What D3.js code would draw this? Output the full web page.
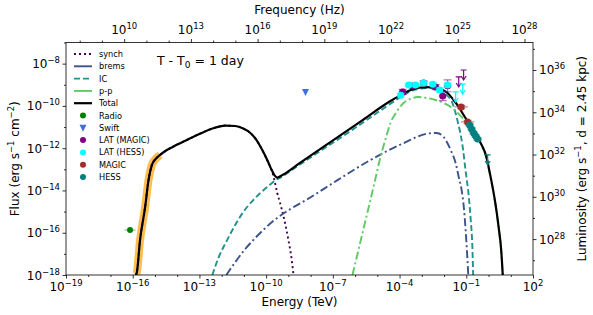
<!DOCTYPE html>
<html lang="en">
<head>
<meta charset="utf-8">
<title>SED, T - T0 = 1 day</title>
<script src="https://cdn.jsdelivr.net/npm/d3@7"></script>
<style>
  body { margin: 0; background: #fff; }
  svg { font-family: "DejaVu Sans", sans-serif; }
</style>
</head>
<body>
<svg id="chart" width="593" height="315"></svg>
<script>

// model curves: [log10 E (TeV), log10 flux (erg s-1 cm-2)]
var synchCurve = [[-15.87,-18],[-15.82,-17.91],[-15.67,-16.34],[-15.44,-14.77],[-15.29,-13.51],[-15.14,-12.80],
  [-14.95,-12.49],[-14.77,-12.32],[-14.50,-12.11],[-14.18,-11.93],[-13.56,-11.61],[-12.96,-11.31],[-12.42,-11.07],
  [-11.84,-10.93],[-11.39,-10.95],[-11.03,-11.07],[-10.71,-11.28],[-10.44,-11.61],[-10.26,-11.92],[-10.08,-12.28],
  [-9.90,-12.68],[-9.77,-12.99],[-9.63,-13.51],[-9.50,-14.12],[-9.36,-14.64],[-9.18,-15.40],[-9.00,-16.34],
  [-8.86,-17.20],[-8.77,-18]];

var bremsCurve = [[-11.79,-18],[-11.39,-17.39],[-10.94,-16.77],[-10.49,-16.25],[-9.99,-15.73],[-9.50,-15.30],
  [-8.91,-14.88],[-8.14,-14.41],[-6.79,-13.51],[-5.31,-12.56],[-3.82,-11.76],[-2.74,-11.31],[-2.33,-11.28],
  [-2.02,-11.47],[-1.70,-12.09],[-1.48,-12.70],[-1.34,-13.36],[-1.21,-13.98],[-1.12,-14.69],[-1.03,-15.87],
  [-0.96,-17.05],[-0.91,-18]];

var icCurve = [[-12.42,-18],[-12.15,-17.20],[-11.75,-16.34],[-11.39,-15.63],[-11.03,-15.02],[-10.62,-14.50],
  [-10.26,-14.12],[-9.90,-13.79],[-9.59,-13.53],[-9.27,-13.34],[-8.91,-13.08],[-7.56,-12.13],[-6.21,-11.19],
  [-4.86,-10.22],[-3.95,-9.58],[-3.50,-9.30],[-3.05,-9.18],[-2.60,-9.15],[-2.15,-9.25],[-1.88,-9.49],
  [-1.66,-9.77],[-1.39,-10.72],[-1.16,-11.95],[-1.03,-13.08],[-0.89,-14.26],[-0.80,-15.40],[-0.73,-16.58],
  [-0.69,-18]];

var ppCurve = [[-6.12,-18],[-5.85,-16.82],[-5.58,-15.63],[-5.31,-14.45],[-5.08,-13.41],[-4.86,-12.42],
  [-4.63,-11.57],[-4.41,-10.81],[-4.14,-10.29],[-3.82,-9.86],[-3.50,-9.67],[-3.19,-9.58],[-2.74,-9.63],
  [-2.38,-9.72],[-2.02,-9.86],[-1.70,-10.05],[-1.48,-10.24],[-1.25,-10.48],[-0.89,-10.86],[-0.62,-11.28],
  [-0.35,-11.80],[-0.08,-12.52],[0.05,-13.18],[0.19,-13.93],[0.32,-14.74],[0.46,-15.82],[0.57,-16.86],[0.64,-18]];

var totalCurve = [[-15.87,-18],[-15.82,-17.91],[-15.67,-16.34],[-15.44,-14.77],[-15.29,-13.51],[-15.14,-12.80],
  [-14.95,-12.49],[-14.77,-12.32],[-14.50,-12.11],[-14.18,-11.93],[-13.56,-11.61],[-12.96,-11.31],[-12.42,-11.07],
  [-11.84,-10.93],[-11.39,-10.95],[-11.03,-11.07],[-10.71,-11.28],[-10.44,-11.61],[-10.26,-11.92],[-10.08,-12.28],
  [-9.90,-12.68],[-9.77,-12.99],[-9.63,-13.27],[-9.50,-13.39],[-9.27,-13.27],[-8.46,-12.68],[-7.11,-11.71],
  [-5.76,-10.74],[-4.41,-9.77],[-3.95,-9.49],[-3.50,-9.25],[-3.05,-9.13],[-2.60,-9.11],[-2.15,-9.20],
  [-1.84,-9.39],[-1.57,-9.72],[-1.34,-10.05],[-1.12,-10.43],[-0.89,-10.81],[-0.62,-11.24],[-0.35,-11.76],
  [-0.08,-12.47],[0.05,-13.13],[0.19,-13.88],[0.32,-14.69],[0.46,-15.78],[0.57,-16.82],[0.64,-18]];

// synchrotron uncertainty band, covers the steep low energy rise
var bandCurve = synchCurve.slice(0, 8);

// measurements, log10 values
var radioE = [-16.12], radioF = [-15.87], radioXerr = [0.25];
var swiftE = [-8.23], swiftF = [-9.34];
var latMagicE = [-3.86, -3.41, -2.92, -2.38, -2.06, -1.84];
var latMagicF = [-9.34, -9.06, -8.92, -9.11, -9.53, -9.05];
var latMagicYerr = [0.12, 0.10, 0.10, 0.12, 0.22, 0.28];
var latMagicUL = [[-1.34, -8.63], [-1.12, -8.30]];
var latHessE = [-3.95, -3.59, -3.28, -2.92, -2.51, -2.20, -1.84];
var latHessF = [-9.49, -9.01, -9.01, -8.92, -8.97, -9.25, -9.01];
var latHessYerr = [0.08, 0.08, 0.08, 0.08, 0.08, 0.10, 0.10];
var latHessUL = [[-1.48, -9.34], [-1.16, -8.97]];
var magicE = [-1.23, -0.94], magicF = [-10.05, -10.76], magicXerr = [0.3, 0.3];
var hessE = [-0.85, -0.76, -0.67, -0.58, -0.49];
var hessF = [-10.90, -11.09, -11.28, -11.42, -11.57];
var hessXerr = [0.2, 0.2, 0.2, 0.2, 0.2];
var hessUL = [[-0.04, -12.32]];

// axis ticks (exponents)
var energyTicks = [-19, -16, -13, -10, -7, -4, -1, 2];
var freqTicks = [10, 13, 16, 19, 22, 25, 28];
var fluxTicks = [-18, -16, -14, -12, -10, -8];
var lumTicks = [28, 30, 32, 34, 36];

var tevToHz = 2.418e26;   // E = h nu
var lumPerFlux = 2.0e44;  // 4 pi d^2 as drawn on the right axis

var svg = d3.select("#chart");
var plotL = 66, plotR = 533, plotT = 42.5, plotB = 275;

var x = d3.scaleLog().domain([1e-19, 1e2]).range([plotL, plotR]);
var y = d3.scaleLog().domain([1e-18, 1e-7]).range([plotB, plotT]);
var xTop = d3.scaleLog().domain(x.domain().map(function(d){ return d * tevToHz; })).range(x.range());
var yRight = d3.scaleLog().domain(y.domain().map(function(d){ return d * lumPerFlux; })).range(y.range());

function p10(v) { return Math.pow(10, v); }
function px(v) { return x(p10(v)); }
function py(v) { return y(p10(v)); }

svg.append("clipPath").attr("id", "plotclip")
  .append("rect").attr("x", plotL).attr("y", plotT).attr("width", plotR - plotL).attr("height", plotB - plotT);

var plot = svg.append("g").attr("clip-path", "url(#plotclip)");

var line = d3.line()
  .x(function(d){ return px(d[0]); })
  .y(function(d){ return py(d[1]); })
  .curve(d3.curveMonotoneX);

// band first, then models
plot.append("path").datum(bandCurve).attr("d", line)
  .attr("fill", "none").attr("stroke", "#ffb030").attr("stroke-opacity", 0.85).attr("stroke-width", 8);

var models = [
  { data: synchCurve, color: "#440154", dash: "2,3", width: 1.9 },
  { data: bremsCurve, color: "#3b528b", dash: "8,3,2,3", width: 1.9 },
  { data: icCurve, color: "#21918c", dash: "6,3", width: 1.9 },
  { data: ppCurve, color: "#5ec962", dash: "8,3,2,3", width: 1.9 },
  { data: totalCurve, color: "#000", dash: null, width: 2.2 }
];

models.forEach(function(m) {
  plot.append("path").datum(m.data).attr("d", line)
    .attr("fill", "none")
    .attr("stroke", m.color)
    .attr("stroke-width", m.width)
    .attr("stroke-dasharray", m.dash);
});

// error bars + markers
function errbars(es, fs, xerr, yerr, color) {
  var g = plot.append("g").attr("stroke", color).attr("stroke-opacity", 0.55).attr("stroke-width", 1.2);
  es.forEach(function(e, i) {
    var cx = px(e), cy = py(fs[i]);
    if (xerr) {
      g.append("line").attr("x1", px(e - xerr[i])).attr("x2", px(e + xerr[i])).attr("y1", cy).attr("y2", cy);
    }
    if (yerr) {
      var y1 = py(fs[i] + yerr[i]), y2 = py(fs[i] - yerr[i]);
      g.append("line").attr("x1", cx).attr("x2", cx).attr("y1", y1).attr("y2", y2);
      g.append("line").attr("x1", cx - 4).attr("x2", cx + 4).attr("y1", y1).attr("y2", y1);
      g.append("line").attr("x1", cx - 4).attr("x2", cx + 4).attr("y1", y2).attr("y2", y2);
    }
  });
}

function dots(es, fs, color, r) {
  plot.append("g").selectAll("circle")
    .data(es)
    .enter()
    .append("circle")
    .attr("cx", function(d){ return px(d); })
    .attr("cy", function(d, i){ return py(fs[i]); })
    .attr("r", r)
    .attr("fill", color);
}

function upperLimits(list, color) {
  var g = plot.append("g");
  list.forEach(function(u) {
    var cx = px(u[0]), cy = py(u[1]);
    g.append("line").attr("x1", cx - 3).attr("x2", cx + 3).attr("y1", cy).attr("y2", cy)
      .attr("stroke", color).attr("stroke-width", 1.2);
    g.append("line").attr("x1", cx).attr("x2", cx).attr("y1", cy).attr("y2", cy + 9)
      .attr("stroke", color).attr("stroke-width", 1.2);
    g.append("path").attr("d", "M" + (cx - 2.5) + "," + (cy + 6) + "L" + cx + "," + (cy + 10) + "L" + (cx + 2.5) + "," + (cy + 6))
      .attr("fill", "none").attr("stroke", color).attr("stroke-width", 1.2);
  });
}

var cRadio = "#008000", cSwift = "#3f6fe0", cLatMagic = "#800080", cLatHess = "#00ffff",
    cMagic = "#a52a2a", cHess = "#008080";

errbars(radioE, radioF, radioXerr, null, cRadio);
dots(radioE, radioF, cRadio, 3);

plot.append("path")
  .attr("d", "M" + (px(swiftE[0]) - 3.5) + "," + (py(swiftF[0]) - 3) + "L" + (px(swiftE[0]) + 3.5) + "," + (py(swiftF[0]) - 3) +
    "L" + px(swiftE[0]) + "," + (py(swiftF[0]) + 4) + "Z")
  .attr("fill", cSwift);

errbars(latMagicE, latMagicF, latMagicE.map(function(){ return 0.17; }), latMagicYerr, cLatMagic);
dots(latMagicE, latMagicF, cLatMagic, 3.5);
upperLimits(latMagicUL, cLatMagic);

errbars(latHessE, latHessF, latHessE.map(function(){ return 0.17; }), latHessYerr, cLatHess);
dots(latHessE, latHessF, cLatHess, 3.5);
upperLimits(latHessUL, cLatHess);

errbars(magicE, magicF, magicXerr, [0.08, 0.08], cMagic);
dots(magicE, magicF, cMagic, 3.5);

errbars(hessE, hessF, hessXerr, [0.06, 0.06, 0.06, 0.06, 0.06], cHess);
dots(hessE, hessF, cHess, 3.5);
upperLimits(hessUL, cHess);

// frame
svg.append("rect").attr("x", plotL).attr("y", plotT).attr("width", plotR - plotL).attr("height", plotB - plotT)
  .attr("fill", "none").attr("stroke", "#000").attr("stroke-width", 0.8);

// ticks
function allDecades(a, b) { return d3.range(a, b + 1); }

function addTicks(scale, majors, lo, hi, orient, pos) {
  var minors = allDecades(lo, hi).filter(function(d){ return majors.indexOf(d) < 0; });
  var mk = { bottom: d3.axisBottom, top: d3.axisTop, left: d3.axisLeft, right: d3.axisRight }[orient];
  var tr = (orient === "bottom" || orient === "top") ? "translate(0," + pos + ")" : "translate(" + pos + ",0)";
  var gMaj = svg.append("g").attr("transform", tr)
    .call(mk(scale).tickValues(majors.map(p10)).tickSize(3.5).tickFormat(""));
  var gMin = svg.append("g").attr("transform", tr)
    .call(mk(scale).tickValues(minors.map(p10)).tickSize(2).tickFormat(""));
  [gMaj, gMin].forEach(function(g) {
    g.select(".domain").remove();
    g.selectAll("line").attr("stroke-width", 0.8);
  });

  majors.forEach(function(e) {
    var t = svg.append("text").attr("font-size", 12).attr("fill", "#000");
    var v = scale(p10(e));
    if (orient === "bottom") t.attr("x", v).attr("y", pos + 16).attr("text-anchor", "middle");
    if (orient === "top") t.attr("x", v).attr("y", pos - 9).attr("text-anchor", "middle");
    if (orient === "left") t.attr("x", pos - 6).attr("y", v + 4.5).attr("text-anchor", "end");
    if (orient === "right") t.attr("x", pos + 6).attr("y", v + 4.5).attr("text-anchor", "start");
    t.append("tspan").text("10");
    t.append("tspan").attr("dy", -5).attr("font-size", 8.5).text(e < 0 ? "\u2212" + (-e) : e);
  });
}

addTicks(x, energyTicks, -19, 2, "bottom", plotB);
addTicks(xTop, freqTicks, 8, 28, "top", plotT);
addTicks(y, fluxTicks, -18, -7, "left", plotL);
addTicks(yRight, lumTicks, 27, 37, "right", plotR);

// axis titles
svg.append("text").attr("x", (plotL + plotR) / 2).attr("y", 306).attr("text-anchor", "middle")
  .attr("font-size", 12).text("Energy (TeV)");
svg.append("text").attr("x", (plotL + plotR) / 2).attr("y", 14).attr("text-anchor", "middle")
  .attr("font-size", 12).text("Frequency (Hz)");

var yl = svg.append("text").attr("transform", "translate(19," + ((plotT + plotB) / 2) + ") rotate(-90)")
  .attr("text-anchor", "middle").attr("font-size", 12);
yl.append("tspan").text("Flux (erg s");
yl.append("tspan").attr("dy", -5).attr("font-size", 8.5).text("\u22121");
yl.append("tspan").attr("dy", 5).text(" cm");
yl.append("tspan").attr("dy", -5).attr("font-size", 8.5).text("\u22122");
yl.append("tspan").attr("dy", 5).text(")");

var rl = svg.append("text").attr("transform", "translate(586," + ((plotT + plotB) / 2) + ") rotate(-90)")
  .attr("text-anchor", "middle").attr("font-size", 12);
rl.append("tspan").text("Luminosity (erg s");
rl.append("tspan").attr("dy", -5).attr("font-size", 8.5).text("\u22121");
rl.append("tspan").attr("dy", 5).text(", d = 2.45 kpc)");

// time label
var tl = svg.append("text").attr("x", 157).attr("y", 65).attr("font-size", 12.5);
tl.append("tspan").text("T - T");
tl.append("tspan").attr("dy", 3).attr("font-size", 9).text("0");
tl.append("tspan").attr("dy", -3).text(" = 1 day");

// legend
var legendItems = [
  { label: "synch", kind: "line", color: "#440154", dash: "2,3", width: 1.9 },
  { label: "brems", kind: "line", color: "#3b528b", dash: null, width: 1.9 },
  { label: "IC", kind: "line", color: "#21918c", dash: "6,3", width: 1.9 },
  { label: "p-p", kind: "line", color: "#5ec962", dash: null, width: 1.9 },
  { label: "Total", kind: "line", color: "#000", dash: null, width: 2.2 },
  { label: "Radio", kind: "dot", color: cRadio },
  { label: "Swift", kind: "tri", color: cSwift },
  { label: "LAT (MAGIC)", kind: "dot", color: cLatMagic },
  { label: "LAT (HESS)", kind: "dot", color: cLatHess },
  { label: "MAGIC", kind: "dot", color: cMagic },
  { label: "HESS", kind: "dot", color: cHess }
];

var legend = svg.append("g");
legendItems.forEach(function(d, i) {
  var ly = 54 + i * 12.3;
  if (d.kind === "line") {
    legend.append("line").attr("x1", 74).attr("x2", 92).attr("y1", ly).attr("y2", ly)
      .attr("stroke", d.color).attr("stroke-width", d.width).attr("stroke-dasharray", d.dash);
  } else if (d.kind === "dot") {
    legend.append("circle").attr("cx", 83).attr("cy", ly).attr("r", 3).attr("fill", d.color);
  } else {
    legend.append("path").attr("d", "M79.5," + (ly - 3) + "L86.5," + (ly - 3) + "L83," + (ly + 4) + "Z").attr("fill", d.color);
  }
  legend.append("text").attr("x", 99).attr("y", ly + 3).attr("font-size", 8.2).text(d.label);
});

</script>
</body>
</html>
